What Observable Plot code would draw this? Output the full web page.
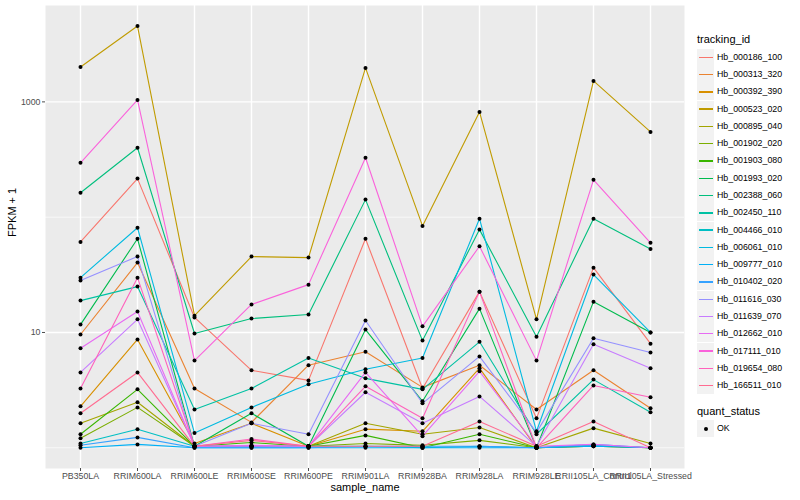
<!DOCTYPE html>
<html>
<head>
<meta charset="utf-8">
<script src="https://cdn.jsdelivr.net/npm/d3@7"></script>
<script src="https://cdn.jsdelivr.net/npm/@observablehq/plot@0.6"></script>
<style>
  html, body { margin: 0; padding: 0; background: #ffffff; }
  body { font-family: "Liberation Sans", Arial, Helvetica, sans-serif; }
  #wrap { position: relative; width: 800px; height: 500px; overflow: hidden; }
  #chart { position: absolute; left: 0; top: 0; }
  .lg { position: absolute; white-space: nowrap; }
  .lg-title { font-size: 11px; line-height: 13px; color: #000; }
  .lg-key { position: absolute; width: 17px; height: 17px; background: #F2F2F2; }
  .lg-text { font-size: 8.8px; line-height: 17px; color: #000; }
</style>
</head>
<body>
<div id="wrap">
  <div id="chart"></div>
  <div id="legend"></div>
</div>
<script>
// ---------------- data ----------------
const samples = ["PB350LA", "RRIM600LA", "RRIM600LE", "RRIM600SE", "RRIM600PE", "RRIM901LA",
  "RRIM928BA", "RRIM928LA", "RRIM928LE", "RRII105LA_Control", "RRII105LA_Stressed"];

const trackingIds = ["Hb_000186_100", "Hb_000313_320", "Hb_000392_390", "Hb_000523_020",
  "Hb_000895_040", "Hb_001902_020", "Hb_001903_080", "Hb_001993_020", "Hb_002388_060",
  "Hb_002450_110", "Hb_004466_010", "Hb_006061_010", "Hb_009777_010", "Hb_010402_020",
  "Hb_011616_030", "Hb_011639_070", "Hb_012662_010", "Hb_017111_010", "Hb_019654_080",
  "Hb_166511_010"];

const trackingColors = ["#F8766D", "#EA8331", "#D89000", "#C09B00", "#A3A500", "#7CAE00",
  "#39B600", "#00BB4E", "#00BF7D", "#00C1A3", "#00BFC4", "#00BAE0", "#00B0F6", "#35A2FF",
  "#9590FF", "#C77CFF", "#E76BF3", "#FA62DB", "#FF62BC", "#FF6C91"];

// FPKM + 1, one row per tracking_id, one value per sample (same order as samples)
const fpkmPlus1 = [
  [61, 216, 13.5, 4.7, 3.84, 65, 3.27, 22.6, 1.80, 36.5, 8.0],      // Hb_000186_100
  [9.6, 40.4, 3.27, 1.66, 5.2, 6.8, 3.34, 5.2, 2.15, 4.7, 2.20],    // Hb_000313_320
  [2.29, 8.7, 1.09, 1.63, 1.03, 1.45, 1.39, 4.9, 1.0, 1.03, 1.0],   // Hb_000392_390
  [2010, 4550, 14.0, 45.5, 44.6, 1970, 84, 819, 13.0, 1520, 549],   // Hb_000523_020
  [1.63, 2.48, 1.03, 1.03, 1.03, 1.63, 1.31, 1.50, 1.0, 1.48, 1.09],// Hb_000895_040
  [1.21, 2.24, 1.03, 1.03, 1.03, 1.09, 1.05, 1.16, 1.0, 1.05, 1.0], // Hb_001902_020
  [1.31, 3.21, 1.03, 1.11, 1.03, 1.28, 1.0, 1.31, 1.0, 1.03, 1.0],  // Hb_001903_080
  [11.7, 65, 1.03, 1.99, 1.03, 10.6, 2.53, 16.1, 1.0, 18.5, 10],    // Hb_001993_020
  [163, 400, 9.8, 13.2, 14.3, 142, 8.5, 78, 9.2, 97, 53],           // Hb_002388_060
  [18.9, 25.0, 2.15, 3.27, 6.0, 4.0, 3.21, 8.3, 1.31, 3.9, 2.03],   // Hb_002450_110
  [1.09, 1.45, 1.03, 1.03, 1.03, 1.03, 1.0, 1.03, 1.0, 1.05, 1.0],  // Hb_004466_010
  [29.9, 81, 1.34, 2.24, 3.55, 4.8, 6.0, 97, 1.39, 31.8, 10],       // Hb_006061_010
  [1.0, 1.07, 1.0, 1.0, 1.0, 1.0, 1.0, 1.0, 1.0, 1.03, 1.0],        // Hb_009777_010
  [1.05, 1.23, 1.0, 1.0, 1.0, 1.03, 1.03, 1.03, 1.0, 1.07, 1.0],    // Hb_010402_020
  [28.2, 45.5, 1.03, 1.63, 1.31, 12.7, 2.43, 6.2, 1.36, 8.9, 6.7],  // Hb_011616_030
  [4.5, 13.0, 1.03, 1.03, 1.03, 3.03, 1.63, 2.79, 1.03, 7.9, 4.9],  // Hb_011639_070
  [7.3, 15.2, 1.03, 1.05, 1.03, 4.5, 1.26, 4.6, 1.03, 1.07, 1.0],   // Hb_012662_010
  [296, 1040, 5.7, 17.5, 26.0, 328, 11.3, 56, 5.7, 211, 60],        // Hb_017111_010
  [3.27, 29.9, 1.03, 1.19, 1.03, 3.41, 1.80, 22.6, 1.0, 3.47, 2.74],// Hb_019654_080
  [1.99, 4.5, 1.03, 1.16, 1.03, 1.03, 1.03, 1.69, 1.03, 1.69, 1.0]  // Hb_166511_010
];

const quantStatus = ["OK"];
const yMajorTicks = [10, 1000];
const yMinorTicks = [1, 100];
const yDomain = [0.661, 6855];

// ---------------- table ----------------
const rows = trackingIds.flatMap((id, i) =>
  samples.map((s, j) => ({ tracking_id: id, sample_name: s, value: fpkmPlus1[i][j], quant_status: quantStatus[0] }))
);

const fontFamily = '"Liberation Sans", Arial, Helvetica, sans-serif';

const chart = Plot.plot({
  width: 690,
  height: 500,
  marginLeft: 45,
  marginRight: 6,
  marginTop: 5,
  marginBottom: 32,
  style: { fontFamily, fontSize: "8.8px", background: "transparent", overflow: "visible" },
  x: { type: "point", domain: samples, padding: 0.6, align: 0.5 },
  y: { type: "log", domain: yDomain },
  color: { domain: trackingIds, range: trackingColors },
  marks: [
    Plot.frame({ fill: "#EBEBEB", stroke: null }),
    Plot.gridY(yMinorTicks, { stroke: "#FFFFFF", strokeOpacity: 1, strokeWidth: 0.7 }),
    Plot.gridY(yMajorTicks, { stroke: "#FFFFFF", strokeOpacity: 1, strokeWidth: 1.4 }),
    Plot.gridX(samples, { stroke: "#FFFFFF", strokeOpacity: 1, strokeWidth: 1.4 }),
    Plot.line(rows, { x: "sample_name", y: "value", z: "tracking_id", stroke: "tracking_id", strokeWidth: 1.1 }),
    Plot.dot(rows, { x: "sample_name", y: "value", r: 2, fill: "#000000", stroke: null }),
    Plot.axisY(yMajorTicks, { anchor: "left", label: null, tickSize: 3, tickPadding: 2,
      tickFormat: d => String(d), color: "#4D4D4D", fontSize: 8.8 }),
    Plot.axisX(samples, { anchor: "bottom", label: null, tickSize: 3, tickPadding: 1,
      color: "#4D4D4D", fontSize: 8.8 }),
    Plot.text(["sample_name"], { frameAnchor: "bottom", dy: 22.5, fontSize: 11, fill: "#000000" }),
    Plot.text(["FPKM + 1"], { frameAnchor: "left", dx: -33, rotate: -90, fontSize: 11, fill: "#000000" })
  ]
});
document.getElementById("chart").appendChild(chart);

// ---------------- legend (right side, like ggplot) ----------------
const legend = document.getElementById("legend");
function addDiv(cls, left, top, text) {
  const d = document.createElement("div");
  d.className = "lg " + cls;
  d.style.left = left + "px";
  d.style.top = top + "px";
  if (text != null) d.textContent = text;
  legend.appendChild(d);
  return d;
}
addDiv("lg-title", 697, 33, "tracking_id");
const rowH = 17.28, firstCenter = 57.3;
trackingIds.forEach((id, i) => {
  const cy = firstCenter + i * rowH;
  const key = addDiv("lg-key", 697, cy - 8.5);
  const seg = document.createElement("div");
  seg.style.cssText = `position:absolute;left:1.5px;width:14px;top:7.8px;height:1.4px;background:${trackingColors[i]};`;
  key.appendChild(seg);
  addDiv("lg-text", 717, cy - 8.5, id);
});
addDiv("lg-title", 697, 404.5, "quant_status");
const okCy = 428.8;
const okKey = addDiv("lg-key", 697, okCy - 8.5);
const pt = document.createElement("div");
pt.style.cssText = "position:absolute;left:6.5px;top:6.5px;width:4px;height:4px;border-radius:2px;background:#000;";
okKey.appendChild(pt);
addDiv("lg-text", 717, okCy - 8.5, quantStatus[0]);
</script>
</body>
</html>
